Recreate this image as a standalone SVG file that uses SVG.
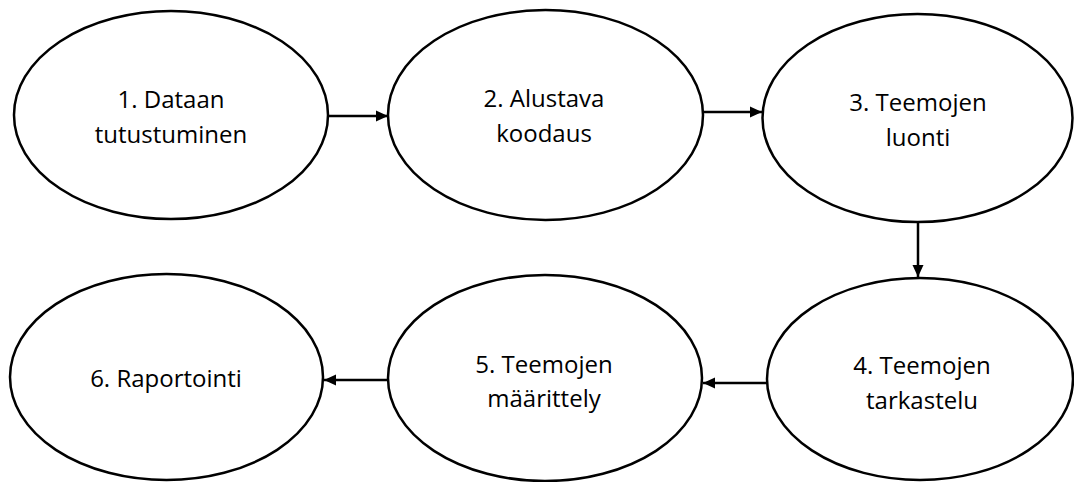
<svg xmlns="http://www.w3.org/2000/svg" width="1074" height="482" viewBox="0 0 1074 482">
<style>
.node ellipse{fill:#ffffff;stroke:#000000;stroke-width:2.5}
.node text{font-family:"Open Sans","Liberation Sans",sans-serif;font-size:24px;fill:#000000;text-anchor:middle}
.edge{stroke:#000000;stroke-width:2.5;fill:none;marker-end:url(#ah)}
</style>
<defs>
<marker id="ah" markerWidth="12" markerHeight="12" refX="12" refY="6" orient="auto" markerUnits="userSpaceOnUse">
<path d="M0,0.5 L12,6 L0,11.5 Z" fill="#000000"/>
</marker>
</defs>
<rect width="1074" height="482" fill="#ffffff"/>
<g id="connectors">
<line class="edge" x1="328" y1="116" x2="388" y2="116"/>
<line class="edge" x1="703" y1="112" x2="762" y2="112"/>
<line class="edge" x1="918" y1="222" x2="918" y2="277"/>
<line class="edge" x1="767" y1="383" x2="703" y2="383"/>
<line class="edge" x1="388" y1="380" x2="324" y2="380"/>
</g>
<g id="n1" class="node">
<ellipse cx="171" cy="115" rx="157" ry="104"/>
<text x="171" y="108">1. Dataan</text>
<text x="171" y="143">tutustuminen</text>
</g>
<g id="n2" class="node">
<ellipse cx="545.5" cy="115" rx="157.5" ry="105"/>
<text x="544" y="107">2. Alustava</text>
<text x="544" y="142">koodaus</text>
</g>
<g id="n3" class="node">
<ellipse cx="917.5" cy="118" rx="155" ry="104"/>
<text x="918" y="111">3. Teemojen</text>
<text x="918" y="146">luonti</text>
</g>
<g id="n4" class="node">
<ellipse cx="920" cy="379" rx="153" ry="101"/>
<text x="922" y="374">4. Teemojen</text>
<text x="922" y="409">tarkastelu</text>
</g>
<g id="n5" class="node">
<ellipse cx="545" cy="378" rx="157" ry="103"/>
<text x="544" y="373">5. Teemojen</text>
<text x="544" y="407">määrittely</text>
</g>
<g id="n6" class="node">
<ellipse cx="166.5" cy="377" rx="156.5" ry="103"/>
<text x="166" y="387">6. Raportointi</text>
</g>
</svg>
